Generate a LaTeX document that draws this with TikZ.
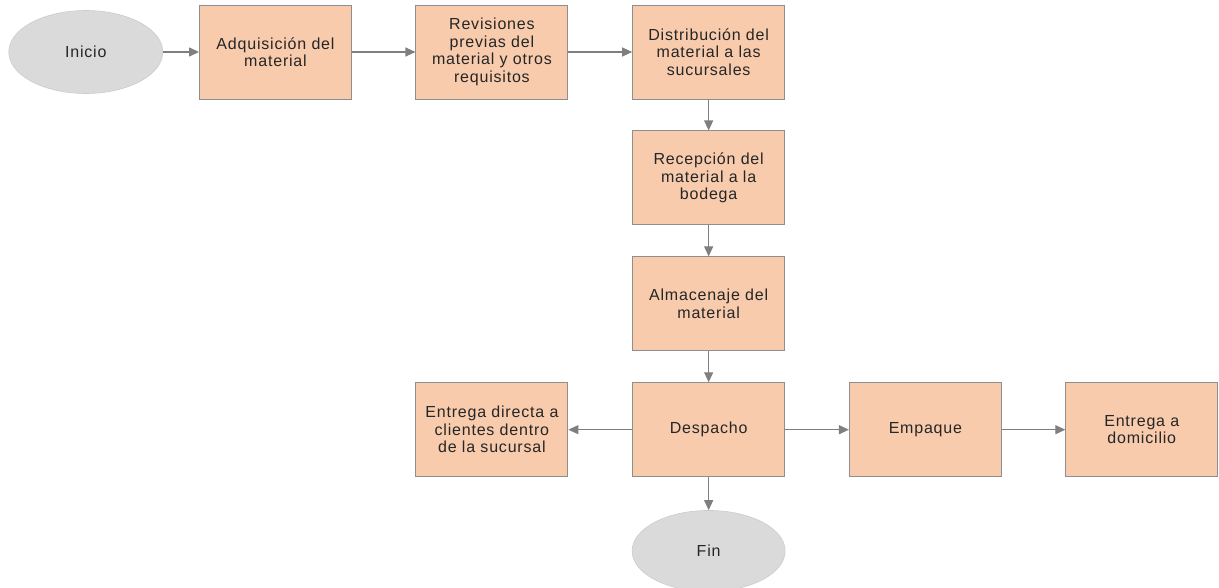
\documentclass[tikz,border=0pt]{standalone}
\usepackage{fontspec}
\setmainfont[LetterSpace=5]{Liberation Sans}
\usetikzlibrary{matrix,positioning,shapes.geometric,arrows.meta}

\definecolor{procfill}{HTML}{F8CBAD}
\definecolor{procline}{HTML}{8E8E8E}
\definecolor{termfill}{HTML}{DADADA}
\definecolor{flowline}{HTML}{7F7F7F}
\definecolor{labeltext}{HTML}{262626}

\tikzset{
  proc/.style={rectangle, draw=procline, fill=procfill, line width=0.9pt,
    minimum width=152pt, minimum height=94pt, inner sep=2pt, anchor=center,
    align=center, text=labeltext, font=\fontsize{16}{17.5}\selectfont},
  term/.style={proc, ellipse, draw=termfill!85!gray, fill=termfill, line width=0.6pt,
    minimum width=153pt, minimum height=81pt, inner sep=0pt},
  flow/.style={every edge/.style={draw, color=flowline, line width=1.2pt,
    -{Triangle[length=10pt,width=9pt]}}}
}

\begin{document}
\begin{tikzpicture}
  \useasboundingbox (0,0) rectangle (1219pt,-588pt);
  \matrix (m) [row sep=31pt, column sep=63.5pt, matrix anchor=adq.center] at (275.5pt,-52pt) {
     \node[proc] (adq) {Adquisición del\\material}; &
     \node[proc] (rev) {Revisiones\\previas del\\material y otros\\requisitos}; &
     \node[proc] (dist) {Distribución del\\material a las\\sucursales}; & & \\
     & & \node[proc] (rec) {Recepción del\\material a la\\bodega}; & & \\
     & & \node[proc] (alm) {Almacenaje del\\material}; & & \\
     & \node[proc] (entdir) {Entrega directa a\\clientes dentro\\de la sucursal}; &
     \node[proc] (desp) {Despacho}; &
     \node[proc] (emp) {Empaque}; &
     \node[proc] (dom) {Entrega a\\domicilio}; \\[2pt]
     & & \node[term] (fin) {Fin}; & & \\};
  \node[term, minimum width=154pt, minimum height=83pt, left=36pt of adq] (inicio) {Inicio};
  \path[flow]
    (inicio) edge (adq)
    (adq) edge (rev)
    (rev) edge (dist)
    (dist) edge (rec)
    (rec) edge (alm)
    (alm) edge (desp)
    (desp) edge (entdir)
           edge (emp)
           edge (fin)
    (emp) edge (dom);
\end{tikzpicture}
\end{document}
